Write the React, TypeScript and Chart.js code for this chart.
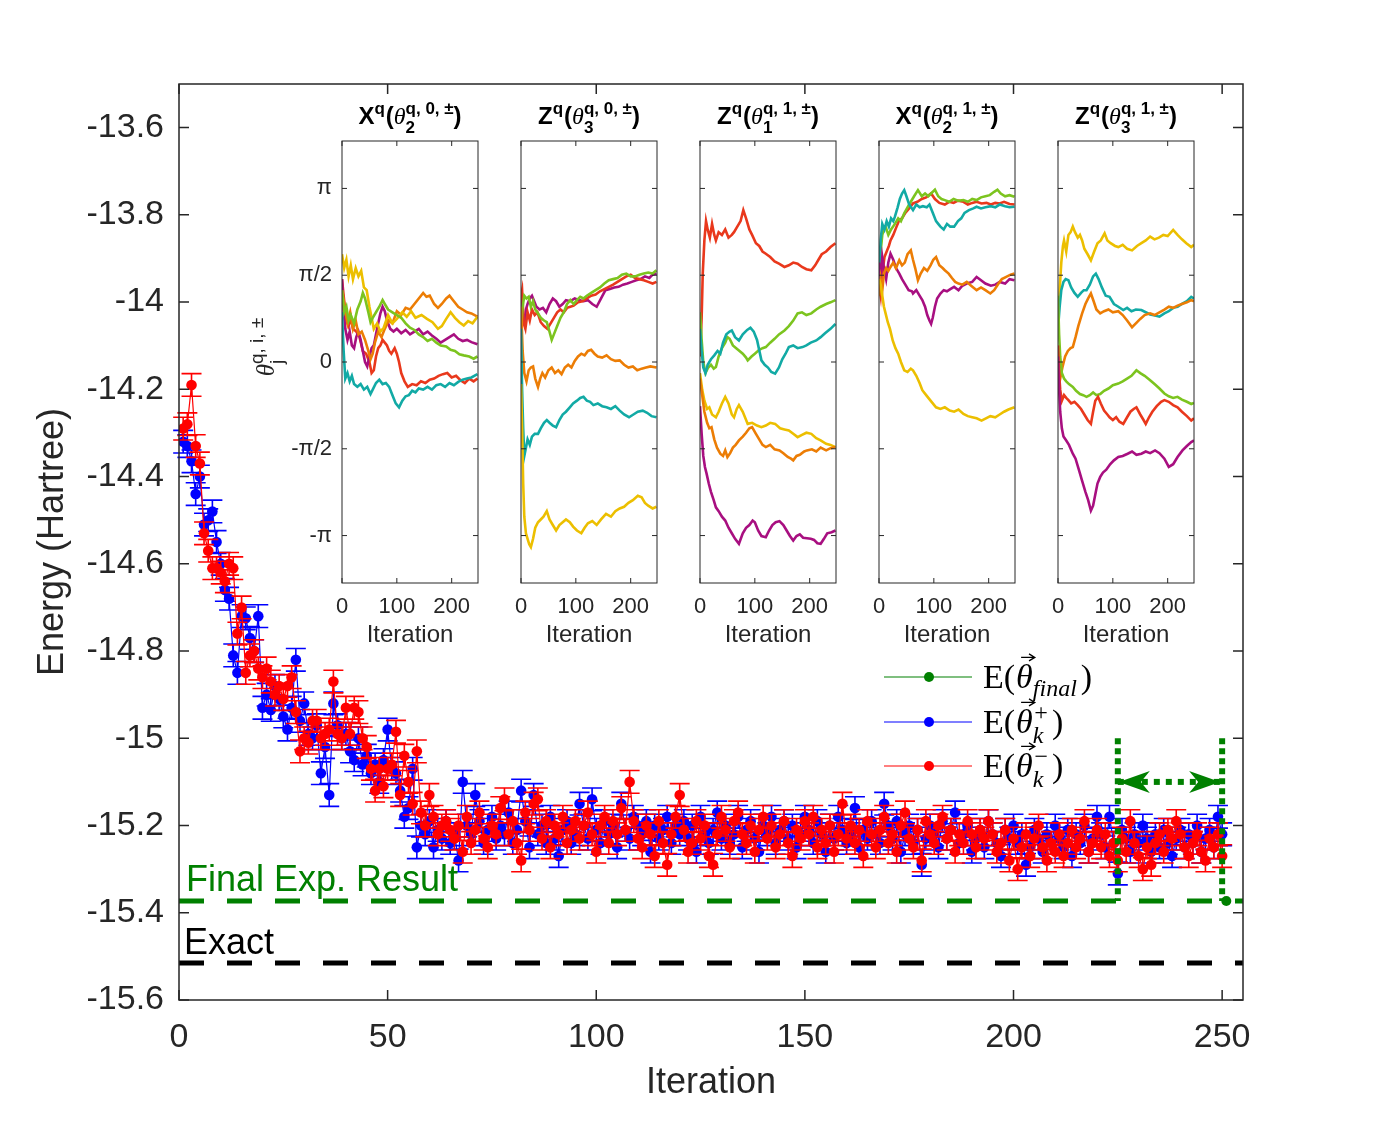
import { useEffect, useRef } from 'react';
import { Chart, registerables } from 'chart.js';

Chart.register(...registerables);

// ---------- main axes ----------
const ITER_MIN = 0;
const ITER_MAX = 255;
const ITER_TICKS = [0, 50, 100, 150, 200, 250];
const E_MIN = -15.6;
const E_MAX = -13.5;
const E_TICKS = [-15.6, -15.4, -15.2, -15.0, -14.8, -14.6, -14.4, -14.2, -14.0, -13.8, -13.6];

// E(theta_k^+) per iteration (k = 1..250)
const ENERGY_PLUS: number[] = [
  -14.32, -14.33, -14.365, -14.44, -14.40, -14.51, -14.50, -14.48, -14.55, -14.60,
  -14.66, -14.68, -14.81, -14.85, -14.72, -14.725, -14.77, -14.80, -14.72, -14.93,
  -14.90, -14.935, -14.88, -14.91, -14.95, -14.98, -14.93, -14.82, -14.96, -14.92,
  -14.99, -15.00, -14.97, -15.08, -15.02, -15.13, -14.92, -14.97, -15.00, -14.99,
  -15.03, -15.05, -15.00, -15.06, -15.04, -15.08, -15.06, -15.10, -15.05, -14.98,
  -15.07, -15.08, -15.12, -15.18, -15.16, -15.07, -15.25, -15.20, -15.22, -15.19,
  -15.25, -15.21, -15.23, -15.19, -15.24, -15.22, -15.28, -15.10, -15.20, -15.22,
  -15.13, -15.19, -15.24, -15.21, -15.18, -15.23, -15.20, -15.22, -15.17, -15.24,
  -15.21, -15.12, -15.19, -15.25, -15.13, -15.22, -15.20, -15.24, -15.18, -15.23,
  -15.27, -15.21, -15.19, -15.24, -15.22, -15.15, -15.20, -15.23, -15.14, -15.21,
  -15.24, -15.19, -15.22, -15.20, -15.25, -15.15, -15.21, -15.23, -15.18, -15.20,
  -15.22, -15.19, -15.26, -15.20, -15.23, -15.21, -15.18, -15.24, -15.20, -15.22,
  -15.19, -15.23, -15.20, -15.26, -15.18, -15.22, -15.24, -15.21, -15.17, -15.23,
  -15.20, -15.24, -15.22, -15.18, -15.25, -15.21, -15.19, -15.23, -15.26, -15.20,
  -15.22, -15.18, -15.24, -15.21, -15.19, -15.23, -15.20, -15.25, -15.22, -15.18,
  -15.21, -15.24, -15.19, -15.22, -15.26, -15.20, -15.23, -15.18, -15.21, -15.24,
  -15.22, -15.16, -15.25, -15.21, -15.23, -15.19, -15.22, -15.24, -15.15, -15.20,
  -15.23, -15.19, -15.26, -15.22, -15.20, -15.24, -15.21, -15.29, -15.23, -15.20,
  -15.22, -15.25, -15.19, -15.23, -15.21, -15.17, -15.24, -15.22, -15.20, -15.26,
  -15.23, -15.21, -15.25, -15.19, -15.22, -15.24, -15.27, -15.21, -15.23, -15.20,
  -15.24, -15.22, -15.29, -15.25, -15.21, -15.23, -15.26, -15.22, -15.24, -15.20,
  -15.23, -15.25, -15.21, -15.27, -15.22, -15.24, -15.20, -15.26, -15.23, -15.18,
  -15.22, -15.25, -15.18, -15.24, -15.31, -15.21, -15.23, -15.26, -15.22, -15.24,
  -15.20, -15.23, -15.26, -15.22, -15.25, -15.21, -15.24, -15.27, -15.23, -15.21,
  -15.25, -15.22, -15.24, -15.20, -15.26, -15.23, -15.21, -15.25, -15.18, -15.22,
];

// E(theta_k^-) per iteration (k = 1..250)
const ENERGY_MINUS: number[] = [
  -14.29, -14.28, -14.19, -14.33, -14.37, -14.53, -14.57, -14.61, -14.61, -14.62,
  -14.64, -14.60, -14.61, -14.76, -14.70, -14.85, -14.81, -14.80, -14.84, -14.86,
  -14.84, -14.87, -14.90, -14.88, -14.91, -14.88, -14.86, -14.94, -15.03, -15.00,
  -15.01, -14.96, -14.96, -15.00, -14.99, -14.98, -14.87, -14.99, -15.00, -14.93,
  -14.99, -14.93, -14.94, -15.00, -15.02, -15.07, -15.12, -15.07, -15.11, -15.07,
  -15.06, -14.985, -15.13, -15.04, -15.10, -15.15, -15.03, -15.17, -15.20, -15.13,
  -15.18, -15.22, -15.20, -15.19, -15.21, -15.23, -15.20, -15.26, -15.18, -15.24,
  -15.21, -15.17, -15.23, -15.25, -15.20, -15.22, -15.16, -15.14, -15.22, -15.19,
  -15.24, -15.28, -15.17, -15.21, -15.15, -15.14, -15.23, -15.19, -15.25, -15.20,
  -15.22, -15.18, -15.24, -15.21, -15.19, -15.23, -15.20, -15.17, -15.22, -15.26,
  -15.20, -15.18, -15.24, -15.19, -15.22, -15.16, -15.21, -15.10, -15.19, -15.23,
  -15.25, -15.20, -15.22, -15.27, -15.19, -15.24, -15.29, -15.22, -15.18, -15.13,
  -15.21, -15.26, -15.24, -15.19, -15.23, -15.20, -15.27, -15.29, -15.22, -15.18,
  -15.21, -15.25, -15.19, -15.17, -15.22, -15.24, -15.20, -15.26, -15.21, -15.18,
  -15.23, -15.20, -15.25, -15.22, -15.19, -15.24, -15.27, -15.21, -15.23, -15.19,
  -15.22, -15.18, -15.25, -15.21, -15.24, -15.20, -15.26, -15.22, -15.15, -15.23,
  -15.20, -15.24, -15.21, -15.27, -15.19, -15.22, -15.25, -15.21, -15.18, -15.24,
  -15.22, -15.26, -15.20, -15.17, -15.23, -15.25, -15.21, -15.28, -15.19, -15.22,
  -15.24, -15.20, -15.18, -15.23, -15.21, -15.26, -15.22, -15.24, -15.19, -15.22,
  -15.25, -15.21, -15.23, -15.19, -15.22, -15.26, -15.24, -15.21, -15.28, -15.23,
  -15.30, -15.25, -15.22, -15.27, -15.23, -15.20, -15.25, -15.28, -15.24, -15.26,
  -15.22, -15.27, -15.24, -15.21, -15.25, -15.23, -15.19, -15.26, -15.24, -15.21,
  -15.25, -15.22, -15.27, -15.24, -15.28, -15.23, -15.26, -15.19, -15.24, -15.27,
  -15.30, -15.25, -15.29, -15.24, -15.22, -15.26, -15.21, -15.23, -15.19, -15.22,
  -15.25, -15.27, -15.24, -15.22, -15.26, -15.28, -15.23, -15.25, -15.22, -15.27,
];

const ERR_PLUS = 0.026;
const ERR_MINUS = 0.026;

const E_FINAL = -15.373;
const FINAL_ITER = 251;
const E_EXACT = -15.515;
const WINDOW_START = 225;
const WINDOW_END = 250;
const WINDOW_TOP = -15.0;
const WINDOW_ARROW = -15.1;

// ---------- inset panels: angle trajectories (iteration, radians) ----------
const PI = Math.PI;
const ANGLE_TICKS = [-PI, -PI / 2, 0, PI / 2, PI];
const ANGLE_LABELS = ['-π', '-π/2', '0', 'π/2', 'π'];
const INSET_ITER_MAX = 248;
const INSET_ITER_TICKS = [0, 100, 200];
const ANGLE_MIN = -4;
const ANGLE_MAX = 4;

const INSET_OPS = ['X', 'Z', 'Z', 'X', 'Z'];
const INSET_SUB = ['2', '3', '1', '2', '3'];
const INSET_LAYER = ['0', '0', '1', '1', '1'];

type Pt = [number, number];

const X2Q0_YELLOW: Pt[] = [[0,1.95],[4,1.7],[8,1.85],[12,1.55],[16,1.75],[20,1.5],[25,1.7],[30,1.55],[35,1.65],[40,1.35],[45,1.3],[50,1.0],[55,0.75],[58,0.6],[64,0.7],[70,0.55],[76,0.62],[84,0.85],[92,0.7],[100,0.78],[110,0.9],[118,0.82],[126,0.92],[134,0.8],[145,0.85],[155,0.78],[165,0.72],[175,0.6],[182,0.65],[190,0.78],[198,0.9],[206,0.8],[214,0.72],[222,0.66],[230,0.74],[238,0.7],[247,0.82]];
const X2Q0_ORANGE: Pt[] = [[0,1.3],[5,1.0],[10,0.7],[15,0.9],[20,0.6],[25,0.75],[30,0.5],[36,0.55],[42,0.4],[48,0.2],[52,0.05],[56,0.15],[60,0.35],[66,0.55],[72,0.45],[78,0.6],[85,0.75],[92,0.7],[100,0.92],[108,0.85],[116,0.98],[124,0.95],[132,1.05],[140,1.15],[148,1.25],[154,1.18],[160,1.2],[168,1.05],[175,0.98],[182,1.05],[190,1.15],[196,1.2],[204,1.1],[212,1.0],[220,0.95],[228,0.9],[236,0.88],[247,0.82]];
const X2Q0_GREEN: Pt[] = [[0,1.3],[4,0.9],[8,1.0],[12,0.75],[16,0.85],[22,0.7],[28,0.95],[34,1.1],[38,1.25],[42,1.15],[48,0.9],[52,0.72],[56,0.8],[62,0.9],[68,1.0],[74,1.12],[78,1.05],[84,0.95],[92,0.9],[100,0.85],[108,0.8],[116,0.7],[124,0.62],[132,0.58],[140,0.5],[148,0.45],[156,0.38],[164,0.42],[172,0.35],[180,0.3],[190,0.28],[198,0.22],[206,0.2],[214,0.14],[222,0.12],[232,0.1],[240,0.06],[247,0.1]];
const X2Q0_MAGENTA: Pt[] = [[0,1.5],[3,0.9],[6,0.6],[10,0.4],[14,0.55],[18,0.3],[22,0.25],[26,0.45],[30,0.55],[34,0.4],[38,0.2],[42,0.0],[46,-0.08],[50,0.1],[54,0.25],[58,0.3],[62,0.5],[66,0.7],[70,0.88],[74,1.0],[78,0.92],[82,0.75],[88,0.6],[94,0.55],[100,0.6],[108,0.52],[116,0.58],[124,0.5],[132,0.55],[140,0.6],[148,0.5],[156,0.55],[164,0.48],[172,0.42],[180,0.35],[188,0.4],[196,0.45],[204,0.5],[212,0.42],[220,0.38],[228,0.4],[236,0.36],[247,0.32]];
const X2Q0_RED: Pt[] = [[0,1.5],[4,1.1],[8,0.75],[12,0.65],[16,0.8],[20,0.6],[26,0.55],[32,0.45],[38,0.2],[44,0.15],[50,0.0],[54,-0.2],[58,-0.15],[62,0.1],[66,0.25],[70,0.3],[74,0.4],[78,0.35],[82,0.3],[86,0.2],[90,0.15],[96,0.25],[100,0.15],[104,0.0],[108,-0.2],[114,-0.35],[120,-0.45],[128,-0.4],[136,-0.42],[144,-0.35],[152,-0.38],[160,-0.32],[168,-0.3],[176,-0.25],[184,-0.22],[192,-0.2],[200,-0.28],[208,-0.25],[216,-0.33],[224,-0.38],[232,-0.3],[240,-0.35],[247,-0.3]];
const X2Q0_TEAL: Pt[] = [[0,0.9],[3,0.2],[6,-0.3],[10,-0.2],[14,-0.35],[18,-0.25],[22,-0.4],[28,-0.45],[34,-0.4],[40,-0.5],[46,-0.45],[52,-0.58],[56,-0.5],[62,-0.38],[68,-0.32],[74,-0.4],[80,-0.38],[86,-0.45],[92,-0.6],[98,-0.75],[104,-0.82],[110,-0.7],[116,-0.62],[122,-0.6],[128,-0.52],[134,-0.55],[140,-0.48],[148,-0.5],[156,-0.45],[164,-0.5],[172,-0.42],[180,-0.4],[188,-0.45],[196,-0.38],[204,-0.42],[212,-0.36],[220,-0.32],[228,-0.3],[236,-0.28],[247,-0.22]];

const Z3Q0_GREEN: Pt[] = [[0,0.6],[3,1.0],[6,1.2],[10,1.15],[14,1.18],[18,1.0],[22,1.1],[26,0.95],[31,0.88],[36,0.8],[42,0.75],[47,0.72],[52,0.55],[56,0.4],[60,0.5],[66,0.65],[72,0.8],[78,0.9],[84,1.05],[90,1.12],[96,1.05],[102,1.12],[108,1.18],[114,1.15],[120,1.2],[128,1.25],[136,1.3],[144,1.35],[152,1.42],[160,1.48],[168,1.5],[176,1.52],[184,1.58],[192,1.6],[200,1.55],[208,1.55],[216,1.58],[224,1.6],[232,1.62],[240,1.6],[247,1.66]];
const Z3Q0_RED: Pt[] = [[0,1.2],[2,1.3],[5,0.7],[8,0.6],[12,0.9],[16,0.75],[20,0.95],[25,0.85],[30,0.9],[36,0.72],[42,0.65],[48,0.6],[54,0.7],[60,0.8],[66,0.9],[72,0.95],[78,0.9],[84,0.98],[90,1.0],[96,1.02],[104,1.08],[112,1.1],[120,1.15],[128,1.2],[136,1.22],[144,1.28],[152,1.32],[160,1.36],[168,1.4],[176,1.45],[184,1.5],[192,1.55],[200,1.58],[208,1.52],[216,1.5],[224,1.48],[232,1.45],[240,1.42],[247,1.45]];
const Z3Q0_MAGENTA: Pt[] = [[0,1.3],[3,0.8],[6,0.7],[9,0.95],[12,1.05],[16,1.15],[20,1.2],[24,1.1],[28,1.0],[34,0.95],[40,0.98],[46,0.9],[52,1.05],[58,1.15],[64,1.1],[70,1.0],[76,1.05],[82,1.12],[90,1.1],[98,1.15],[106,1.12],[114,1.1],[122,1.12],[130,1.05],[138,1.0],[146,1.15],[154,1.3],[162,1.32],[170,1.35],[178,1.36],[186,1.4],[194,1.42],[202,1.45],[210,1.48],[218,1.5],[226,1.55],[234,1.52],[240,1.58],[247,1.6]];
const Z3Q0_ORANGE: Pt[] = [[0,1.0],[3,0.2],[6,-0.2],[10,-0.35],[14,-0.15],[18,-0.1],[22,-0.08],[26,-0.3],[31,-0.45],[35,-0.3],[39,-0.2],[44,-0.28],[50,-0.15],[56,-0.1],[62,-0.2],[68,-0.15],[74,-0.22],[80,-0.1],[86,-0.05],[92,-0.1],[98,0.02],[104,0.1],[110,0.15],[116,0.12],[122,0.2],[128,0.22],[134,0.15],[140,0.1],[148,0.08],[156,0.12],[164,0.05],[172,0.02],[180,0.03],[188,-0.05],[196,-0.1],[204,-0.08],[212,-0.15],[220,-0.12],[228,-0.1],[236,-0.08],[247,-0.1]];
const Z3Q0_TEAL: Pt[] = [[0,0.6],[2,-0.5],[4,-1.2],[6,-1.7],[9,-1.55],[12,-1.4],[16,-1.5],[20,-1.35],[25,-1.3],[31,-1.3],[36,-1.2],[42,-1.1],[47,-1.05],[52,-1.1],[58,-1.15],[64,-1.18],[70,-1.05],[76,-0.95],[82,-0.9],[89,-0.82],[95,-0.75],[102,-0.7],[108,-0.65],[114,-0.63],[120,-0.7],[126,-0.72],[132,-0.78],[140,-0.75],[148,-0.8],[156,-0.82],[164,-0.85],[172,-0.8],[180,-0.88],[188,-0.95],[197,-1.0],[205,-0.95],[213,-0.9],[222,-0.88],[230,-0.92],[238,-0.98],[247,-1.0]];
const Z3Q0_YELLOW: Pt[] = [[0,-0.4],[2,-1.2],[4,-2.2],[6,-2.8],[9,-3.1],[12,-3.2],[15,-3.3],[18,-3.35],[22,-3.2],[26,-3.0],[31,-2.9],[36,-2.85],[41,-2.8],[47,-2.7],[52,-2.85],[58,-2.95],[64,-3.05],[70,-2.95],[76,-2.9],[82,-2.85],[89,-2.9],[95,-2.98],[102,-3.05],[110,-3.1],[116,-3.0],[122,-2.92],[130,-2.88],[138,-2.95],[146,-2.85],[155,-2.75],[164,-2.8],[172,-2.7],[180,-2.65],[188,-2.62],[196,-2.55],[204,-2.5],[213,-2.42],[220,-2.45],[226,-2.55],[232,-2.6],[240,-2.65],[247,-2.62]];

const Z1Q1_RED: Pt[] = [[0,0.1],[3,0.8],[5,1.6],[8,2.2],[11,2.55],[14,2.4],[18,2.25],[22,2.5],[26,2.3],[29,2.2],[34,2.35],[40,2.3],[46,2.4],[52,2.25],[58,2.3],[62,2.35],[68,2.45],[74,2.55],[79,2.75],[84,2.6],[90,2.4],[95,2.3],[102,2.15],[108,2.1],[114,2.0],[120,1.96],[128,1.9],[136,1.82],[144,1.78],[154,1.72],[162,1.75],[170,1.8],[178,1.78],[186,1.72],[194,1.68],[203,1.66],[210,1.75],[216,1.85],[222,1.95],[230,2.0],[238,2.08],[247,2.15]];
const Z1Q1_GREEN: Pt[] = [[0,0.9],[3,0.4],[6,0.0],[10,-0.2],[15,-0.1],[20,-0.05],[25,-0.12],[29,-0.09],[34,0.1],[40,0.25],[46,0.35],[50,0.45],[54,0.42],[60,0.3],[66,0.25],[71,0.21],[78,0.15],[84,0.08],[87,0.03],[94,0.1],[100,0.15],[108,0.22],[114,0.25],[120,0.27],[128,0.35],[136,0.42],[144,0.5],[154,0.57],[162,0.65],[170,0.75],[178,0.88],[186,0.9],[194,0.85],[203,0.88],[212,0.95],[220,1.0],[230,1.05],[238,1.08],[247,1.12]];
const Z1Q1_TEAL: Pt[] = [[0,0.6],[3,0.2],[6,-0.1],[10,-0.2],[14,-0.05],[20,0.05],[26,0.12],[32,0.2],[37,0.15],[42,0.35],[48,0.5],[54,0.55],[58,0.57],[64,0.45],[71,0.39],[78,0.5],[86,0.58],[92,0.62],[98,0.55],[104,0.4],[112,0.03],[118,-0.05],[124,-0.1],[130,-0.18],[137,-0.21],[144,-0.1],[150,0.05],[156,0.15],[162,0.27],[170,0.3],[178,0.25],[187,0.27],[194,0.3],[202,0.35],[212,0.39],[220,0.45],[228,0.52],[238,0.6],[247,0.69]];
const Z1Q1_YELLOW: Pt[] = [[0,-0.2],[4,-0.5],[8,-0.7],[13,-0.85],[17,-0.82],[22,-0.95],[29,-1.0],[34,-0.9],[40,-0.75],[46,-0.63],[52,-0.75],[58,-0.95],[62,-1.0],[67,-0.85],[71,-0.78],[78,-0.9],[87,-1.12],[95,-1.1],[104,-1.15],[112,-1.18],[120,-1.15],[128,-1.1],[137,-1.12],[146,-1.2],[154,-1.22],[162,-1.24],[170,-1.3],[178,-1.36],[186,-1.32],[194,-1.28],[203,-1.3],[212,-1.38],[220,-1.42],[230,-1.48],[238,-1.5],[247,-1.54]];
const Z1Q1_ORANGE: Pt[] = [[0,-0.3],[4,-0.6],[8,-0.9],[13,-1.1],[17,-1.2],[21,-1.18],[26,-1.4],[31,-1.55],[37,-1.66],[42,-1.7],[46,-1.6],[50,-1.72],[55,-1.65],[60,-1.55],[65,-1.5],[71,-1.42],[78,-1.35],[84,-1.28],[90,-1.2],[95,-1.18],[102,-1.3],[108,-1.4],[114,-1.5],[120,-1.54],[128,-1.5],[136,-1.58],[145,-1.6],[152,-1.65],[160,-1.72],[166,-1.75],[170,-1.78],[176,-1.7],[182,-1.68],[190,-1.62],[195,-1.6],[204,-1.58],[212,-1.62],[220,-1.55],[230,-1.6],[238,-1.56],[247,-1.54]];
const Z1Q1_MAGENTA: Pt[] = [[0,-0.8],[3,-1.3],[6,-1.7],[9,-1.9],[12,-2.02],[16,-2.2],[20,-2.35],[25,-2.5],[29,-2.63],[34,-2.7],[40,-2.8],[46,-2.87],[52,-3.0],[58,-3.1],[64,-3.2],[71,-3.29],[78,-3.1],[84,-3.0],[90,-2.95],[96,-2.87],[100,-2.9],[106,-3.05],[112,-3.15],[120,-3.17],[126,-3.05],[132,-2.95],[138,-2.9],[145,-2.88],[152,-2.95],[158,-3.05],[164,-3.15],[170,-3.23],[176,-3.15],[182,-3.12],[188,-3.18],[195,-3.19],[202,-3.2],[208,-3.22],[214,-3.28],[220,-3.29],[226,-3.2],[232,-3.1],[240,-3.08],[247,-3.05]];

const X2Q1_GREEN: Pt[] = [[0,1.6],[3,2.0],[6,2.3],[9,2.4],[12,2.45],[17,2.3],[22,2.4],[29,2.5],[35,2.6],[40,2.55],[46,2.69],[52,2.8],[58,2.9],[64,3.0],[71,3.11],[78,3.0],[84,3.05],[90,3.0],[95,3.05],[102,3.12],[108,3.0],[114,2.95],[120,2.93],[128,2.9],[136,2.95],[144,2.92],[154,2.93],[162,2.9],[170,2.95],[178,2.93],[186,2.98],[194,3.0],[202,3.02],[210,3.08],[216,3.12],[222,3.05],[230,3.0],[238,3.02],[247,2.99]];
const X2Q1_TEAL: Pt[] = [[0,1.6],[3,2.2],[6,2.5],[10,2.4],[14,2.55],[18,2.45],[22,2.6],[26,2.55],[29,2.63],[34,2.8],[38,2.95],[42,3.05],[46,3.11],[50,3.0],[55,2.85],[62,2.75],[68,2.85],[74,2.8],[80,2.82],[87,2.8],[92,2.85],[98,2.7],[104,2.55],[108,2.5],[112,2.45],[118,2.4],[124,2.5],[130,2.45],[137,2.45],[144,2.55],[150,2.6],[156,2.7],[164,2.75],[172,2.78],[178,2.81],[186,2.78],[194,2.8],[204,2.82],[212,2.8],[220,2.85],[230,2.82],[238,2.8],[247,2.81]];
const X2Q1_RED: Pt[] = [[0,1.4],[3,1.2],[6,1.6],[10,1.9],[14,2.0],[18,2.1],[21,2.2],[26,2.3],[32,2.45],[37,2.57],[42,2.6],[48,2.7],[55,2.78],[62,2.87],[70,2.9],[78,2.95],[86,2.98],[95,3.05],[102,2.95],[110,2.88],[120,2.85],[128,2.9],[136,2.88],[144,2.92],[154,2.9],[162,2.85],[170,2.88],[178,2.9],[187,2.87],[196,2.88],[204,2.85],[212,2.88],[220,2.87],[228,2.9],[238,2.86],[247,2.85]];
const X2Q1_ORANGE: Pt[] = [[0,1.2],[3,1.5],[6,1.3],[9,1.6],[13,1.7],[17,1.65],[21,1.72],[26,1.8],[31,1.7],[37,1.84],[42,1.75],[47,1.8],[52,1.95],[58,2.02],[62,1.85],[66,1.7],[71,1.48],[76,1.6],[82,1.7],[88,1.65],[94,1.75],[99,1.85],[104,1.9],[110,1.75],[116,1.7],[120,1.66],[127,1.6],[133,1.52],[139,1.45],[145,1.42],[152,1.4],[160,1.45],[168,1.38],[178,1.3],[186,1.35],[194,1.3],[203,1.24],[210,1.3],[218,1.42],[224,1.5],[232,1.54],[240,1.58],[247,1.6]];
const X2Q1_MAGENTA: Pt[] = [[0,1.8],[3,1.5],[6,1.9],[9,1.7],[13,1.5],[17,1.8],[21,1.96],[26,1.85],[31,1.7],[37,1.6],[42,1.5],[48,1.4],[54,1.3],[60,1.28],[62,1.24],[68,1.3],[74,1.2],[79,1.12],[84,1.0],[88,0.85],[92,0.75],[95,0.69],[98,0.8],[102,1.0],[106,1.15],[112,1.24],[118,1.3],[124,1.28],[130,1.32],[137,1.36],[145,1.3],[152,1.38],[160,1.42],[170,1.45],[178,1.54],[186,1.48],[194,1.42],[204,1.38],[212,1.4],[220,1.45],[230,1.42],[238,1.5],[247,1.48]];
const X2Q1_YELLOW: Pt[] = [[0,1.5],[3,1.4],[6,1.2],[9,1.0],[12,0.88],[16,0.72],[20,0.6],[25,0.39],[30,0.25],[35,0.15],[40,0.0],[46,-0.15],[52,-0.18],[58,-0.12],[62,-0.15],[68,-0.25],[74,-0.38],[79,-0.51],[86,-0.6],[94,-0.7],[104,-0.82],[112,-0.85],[120,-0.82],[129,-0.88],[137,-0.9],[145,-0.86],[154,-0.94],[162,-0.98],[170,-1.0],[178,-1.02],[187,-1.06],[195,-1.02],[203,-0.98],[212,-1.0],[220,-0.95],[228,-0.9],[236,-0.86],[247,-0.82]];

const Z3Q1_YELLOW: Pt[] = [[0,0.6],[3,1.3],[6,1.8],[9,2.1],[11,2.2],[15,2.0],[19,2.3],[23,2.35],[27,2.45],[31,2.35],[36,2.25],[40,2.3],[44,2.2],[48,2.05],[54,1.95],[60,1.84],[66,2.0],[72,2.15],[78,2.2],[85,2.33],[90,2.2],[96,2.15],[104,2.1],[110,2.08],[118,2.12],[126,2.05],[135,2.02],[144,2.1],[152,2.15],[160,2.2],[168,2.27],[176,2.22],[184,2.25],[192,2.3],[200,2.28],[210,2.39],[218,2.3],[226,2.22],[234,2.15],[243,2.08],[248,2.12]];
const Z3Q1_TEAL: Pt[] = [[0,0.6],[3,1.0],[6,1.3],[10,1.45],[14,1.5],[19,1.48],[24,1.35],[30,1.25],[36,1.18],[42,1.25],[47,1.3],[52,1.3],[58,1.4],[64,1.55],[69,1.6],[74,1.5],[80,1.35],[87,1.2],[94,1.18],[102,1.05],[110,1.0],[119,0.94],[126,0.98],[134,0.92],[142,0.95],[152,0.94],[160,0.9],[168,0.86],[177,0.84],[185,0.82],[194,0.88],[202,0.92],[210,0.98],[218,1.0],[226,1.05],[235,1.1],[243,1.18],[248,1.15]];
const Z3Q1_ORANGE: Pt[] = [[0,0.0],[4,-0.3],[8,-0.1],[13,0.1],[18,0.2],[23,0.25],[27,0.27],[32,0.45],[37,0.65],[44,0.88],[50,1.05],[55,1.15],[60,1.24],[65,1.1],[70,0.95],[77,0.88],[84,0.92],[92,0.95],[100,0.9],[110,0.92],[118,0.85],[126,0.75],[135,0.63],[142,0.7],[150,0.78],[158,0.85],[168,0.88],[176,0.85],[185,0.9],[194,0.95],[202,1.0],[210,0.98],[218,1.02],[226,1.05],[235,1.08],[243,1.12],[248,1.1]];
const Z3Q1_GREEN: Pt[] = [[0,1.2],[2,0.5],[4,0.1],[7,-0.2],[11,-0.3],[15,-0.35],[20,-0.4],[27,-0.45],[33,-0.52],[40,-0.58],[46,-0.6],[52,-0.63],[58,-0.6],[64,-0.55],[70,-0.6],[77,-0.58],[84,-0.52],[92,-0.48],[100,-0.42],[110,-0.39],[118,-0.35],[126,-0.3],[134,-0.25],[143,-0.15],[150,-0.2],[158,-0.25],[168,-0.33],[176,-0.4],[185,-0.48],[194,-0.57],[202,-0.62],[210,-0.65],[218,-0.63],[226,-0.68],[235,-0.72],[243,-0.76],[248,-0.74]];
const Z3Q1_RED: Pt[] = [[0,0.3],[2,-0.2],[4,-0.5],[7,-0.7],[11,-0.6],[15,-0.65],[19,-0.69],[24,-0.75],[30,-0.72],[36,-0.78],[42,-0.85],[48,-0.95],[54,-1.05],[60,-1.12],[64,-0.9],[68,-0.7],[73,-0.63],[78,-0.75],[84,-0.88],[90,-0.95],[94,-1.0],[100,-1.05],[106,-1.0],[112,-1.08],[119,-1.12],[126,-1.0],[132,-0.9],[138,-0.85],[143,-0.82],[150,-0.95],[156,-1.05],[160,-1.12],[166,-1.0],[172,-0.9],[180,-0.8],[188,-0.72],[194,-0.69],[202,-0.72],[210,-0.78],[218,-0.82],[226,-0.9],[235,-0.98],[243,-1.06],[248,-1.02]];
const Z3Q1_MAGENTA: Pt[] = [[0,0.1],[2,-0.5],[4,-0.9],[7,-1.2],[10,-1.35],[15,-1.42],[20,-1.5],[27,-1.66],[32,-1.75],[38,-1.95],[44,-2.15],[50,-2.35],[55,-2.5],[60,-2.69],[64,-2.6],[68,-2.4],[72,-2.2],[77,-2.08],[82,-2.0],[88,-1.95],[95,-1.85],[102,-1.78],[110,-1.72],[118,-1.7],[127,-1.66],[135,-1.62],[143,-1.68],[152,-1.66],[160,-1.62],[168,-1.65],[177,-1.6],[185,-1.65],[194,-1.75],[202,-1.9],[210,-1.85],[218,-1.72],[227,-1.6],[235,-1.52],[243,-1.45],[248,-1.42]];

// ---------- styling ----------
const SANS = '"Liberation Sans", Arial, Helvetica, sans-serif';
const SERIF = '"Liberation Serif", "Times New Roman", serif';
const AX = '#262626';
const BLUE = '#0000ff';
const RED = '#ff0000';
const GREEN = '#008000';

const C_YELLOW = '#ecbf00';
const C_GREEN = '#7cc41f';
const C_TEAL = '#12aaa5';
const C_ORANGE = '#ec7d05';
const C_RED = '#e9381c';
const C_MAGENTA = '#a80f80';

const PANEL_LINES: { pts: Pt[]; color: string }[][] = [
  [
    { pts: X2Q0_TEAL, color: C_TEAL },
    { pts: X2Q0_GREEN, color: C_GREEN },
    { pts: X2Q0_YELLOW, color: C_YELLOW },
    { pts: X2Q0_ORANGE, color: C_ORANGE },
    { pts: X2Q0_MAGENTA, color: C_MAGENTA },
    { pts: X2Q0_RED, color: C_RED },
  ],
  [
    { pts: Z3Q0_YELLOW, color: C_YELLOW },
    { pts: Z3Q0_TEAL, color: C_TEAL },
    { pts: Z3Q0_ORANGE, color: C_ORANGE },
    { pts: Z3Q0_GREEN, color: C_GREEN },
    { pts: Z3Q0_RED, color: C_RED },
    { pts: Z3Q0_MAGENTA, color: C_MAGENTA },
  ],
  [
    { pts: Z1Q1_MAGENTA, color: C_MAGENTA },
    { pts: Z1Q1_ORANGE, color: C_ORANGE },
    { pts: Z1Q1_YELLOW, color: C_YELLOW },
    { pts: Z1Q1_TEAL, color: C_TEAL },
    { pts: Z1Q1_GREEN, color: C_GREEN },
    { pts: Z1Q1_RED, color: C_RED },
  ],
  [
    { pts: X2Q1_YELLOW, color: C_YELLOW },
    { pts: X2Q1_ORANGE, color: C_ORANGE },
    { pts: X2Q1_MAGENTA, color: C_MAGENTA },
    { pts: X2Q1_TEAL, color: C_TEAL },
    { pts: X2Q1_GREEN, color: C_GREEN },
    { pts: X2Q1_RED, color: C_RED },
  ],
  [
    { pts: Z3Q1_MAGENTA, color: C_MAGENTA },
    { pts: Z3Q1_RED, color: C_RED },
    { pts: Z3Q1_GREEN, color: C_GREEN },
    { pts: Z3Q1_ORANGE, color: C_ORANGE },
    { pts: Z3Q1_TEAL, color: C_TEAL },
    { pts: Z3Q1_YELLOW, color: C_YELLOW },
  ],
];

// ---------- page layout ----------
const W = 1375;
const H = 1125;
const MAIN_PAD = { left: 0, top: 84, right: 132, bottom: 0 };
const MAIN_Y_AXIS_W = 179;
const MAIN_X_AXIS_H = 125;

const INSET_LEFTS = [342, 521, 700, 879, 1058];
const INSET_PLOT_W = 136;
const INSET_CANVAS_TOP = 85;
const INSET_CANVAS_W = 270;
const INSET_CANVAS_H = 590;
const INSET_LEFT_GUTTER = 100;
const INSET_PAD_TOP = 56;
const INSET_X_AXIS_H = 92;

// ---------- rich text (sub/superscripts) ----------
type Piece = {
  t: string;
  font: string;
  size: number;
  sub?: string;
  sup?: string;
  sFont?: string;
  subDy?: number;
  supDy?: number;
  vec?: boolean;
  gap?: number;
};

function pieceWidth(ctx: CanvasRenderingContext2D, p: Piece) {
  ctx.font = p.font;
  let w = ctx.measureText(p.t).width;
  if (p.sub || p.sup) {
    ctx.font = p.sFont || p.font;
    w += Math.max(p.sub ? ctx.measureText(p.sub).width : 0, p.sup ? ctx.measureText(p.sup).width : 0);
  }
  return w + (p.gap || 0);
}

function drawRich(ctx: CanvasRenderingContext2D, pieces: Piece[], x: number, y: number, align: 'left' | 'center') {
  const total = pieces.reduce((s, p) => s + pieceWidth(ctx, p), 0);
  let cx = align === 'center' ? x - total / 2 : x;
  ctx.textAlign = 'left';
  ctx.textBaseline = 'alphabetic';
  for (const p of pieces) {
    ctx.font = p.font;
    ctx.fillText(p.t, cx, y);
    const tw = ctx.measureText(p.t).width;
    if (p.vec) {
      const ay = y - p.size * 0.9;
      const x0 = cx + tw * 0.3;
      const x1 = cx + tw + 2;
      const ah = p.size * 0.17;
      ctx.save();
      ctx.strokeStyle = ctx.fillStyle as string;
      ctx.lineWidth = Math.max(1, p.size / 26);
      ctx.beginPath();
      ctx.moveTo(x0, ay);
      ctx.lineTo(x1, ay);
      ctx.moveTo(x1 - ah, ay - ah * 0.6);
      ctx.lineTo(x1, ay);
      ctx.lineTo(x1 - ah, ay + ah * 0.6);
      ctx.stroke();
      ctx.restore();
    }
    cx += tw;
    if (p.sub || p.sup) {
      ctx.font = p.sFont || p.font;
      let sw = 0;
      if (p.sup) {
        ctx.fillText(p.sup, cx, y + (p.supDy || 0));
        sw = ctx.measureText(p.sup).width;
      }
      if (p.sub) {
        ctx.fillText(p.sub, cx, y + (p.subDy || 0));
        sw = Math.max(sw, ctx.measureText(p.sub).width);
      }
      cx += sw;
    }
    cx += p.gap || 0;
  }
}

function insetTitle(op: string, j: string, layer: string): Piece[] {
  const b = (s: number) => `bold ${s}px ${SANS}`;
  return [
    { t: op, font: b(24), size: 24, sup: 'q', sFont: b(17), supDy: -10, gap: 1 },
    { t: '(', font: b(24), size: 24 },
    { t: 'θ', font: `italic 24px ${SERIF}`, size: 24, sup: `q, ${layer}, ±`, sub: j, sFont: b(17), supDy: -10, subDy: 9 },
    { t: ')', font: b(24), size: 24 },
  ];
}

function legendText(sup: string | null): Piece[] {
  const theta: Piece = sup
    ? { t: 'θ', font: `italic 34px ${SERIF}`, size: 34, vec: true, sup, sub: 'k', sFont: `italic 24px ${SERIF}`, supDy: -13, subDy: 10, gap: 3 }
    : { t: 'θ', font: `italic 34px ${SERIF}`, size: 34, vec: true, sub: 'final', sFont: `italic 24px ${SERIF}`, subDy: 8, gap: 4 };
  return [{ t: 'E(', font: `34px ${SERIF}`, size: 34, gap: 1 }, theta, { t: ')', font: `34px ${SERIF}`, size: 34 }];
}

// ---------- plugins ----------
const errorBarsPlugin = {
  id: 'errorBars',
  beforeDatasetDraw(chart: any, args: any) {
    const ds = chart.data.datasets[args.index];
    if (!ds.errorBar) return;
    const { ctx } = chart;
    const y = chart.scales.y;
    const cap = 10;
    ctx.save();
    ctx.strokeStyle = ds.borderColor;
    ctx.lineWidth = 1.6;
    ctx.beginPath();
    args.meta.data.forEach((el: any, i: number) => {
      const v = ds.data[i].y;
      const yt = y.getPixelForValue(v + ds.errorBar);
      const yb = y.getPixelForValue(v - ds.errorBar);
      ctx.moveTo(el.x, yt);
      ctx.lineTo(el.x, yb);
      ctx.moveTo(el.x - cap, yt);
      ctx.lineTo(el.x + cap, yt);
      ctx.moveTo(el.x - cap, yb);
      ctx.lineTo(el.x + cap, yb);
    });
    ctx.stroke();
    ctx.restore();
  },
};

function arrowHead(ctx: CanvasRenderingContext2D, tipX: number, tipY: number, dir: number) {
  const len = 31;
  const half = 11;
  const notch = 22;
  ctx.beginPath();
  ctx.moveTo(tipX, tipY);
  ctx.lineTo(tipX - dir * len, tipY - half);
  ctx.lineTo(tipX - dir * notch, tipY);
  ctx.lineTo(tipX - dir * len, tipY + half);
  ctx.closePath();
  ctx.fill();
}

const mainDecorPlugin = {
  id: 'mainDecor',
  afterDatasetsDraw(chart: any) {
    const { ctx, scales } = chart;
    const x = scales.x;
    const y = scales.y;
    ctx.save();
    // window arrows
    ctx.fillStyle = GREEN;
    const ay = y.getPixelForValue(WINDOW_ARROW);
    arrowHead(ctx, x.getPixelForValue(WINDOW_START) + 1, ay, -1);
    arrowHead(ctx, x.getPixelForValue(WINDOW_END) - 2, ay, 1);
    // reference line labels
    ctx.font = `36px ${SANS}`;
    ctx.textAlign = 'left';
    ctx.textBaseline = 'alphabetic';
    ctx.fillStyle = GREEN;
    ctx.fillText('Final Exp. Result', x.getPixelForValue(0) + 7, y.getPixelForValue(E_FINAL) - 10);
    ctx.fillStyle = '#000';
    ctx.fillText('Exact', x.getPixelForValue(0) + 5, y.getPixelForValue(E_EXACT) - 9);
    // legend
    const rows = [
      { color: GREEN, text: legendText(null), cy: 677 },
      { color: BLUE, text: legendText('+'), cy: 722 },
      { color: RED, text: legendText('−'), cy: 766 },
    ];
    rows.forEach((r) => {
      ctx.strokeStyle = r.color;
      ctx.fillStyle = r.color;
      ctx.lineWidth = 1.2;
      ctx.beginPath();
      ctx.moveTo(884, r.cy);
      ctx.lineTo(972, r.cy);
      ctx.stroke();
      ctx.beginPath();
      ctx.arc(929, r.cy, 5, 0, Math.PI * 2);
      ctx.fill();
      ctx.fillStyle = '#000';
      drawRich(ctx, r.text, 983, r.cy + 11, 'left');
    });
    ctx.restore();
  },
  afterDraw(chart: any) {
    const { ctx, chartArea, scales } = chart;
    const { left, right, top, bottom } = chartArea;
    const tl = 10;
    ctx.save();
    ctx.strokeStyle = AX;
    ctx.lineWidth = 1.5;
    ctx.strokeRect(left, top, right - left, bottom - top);
    ctx.beginPath();
    scales.x.ticks.forEach((t: any) => {
      const px = scales.x.getPixelForValue(t.value);
      ctx.moveTo(px, bottom);
      ctx.lineTo(px, bottom - tl);
      ctx.moveTo(px, top);
      ctx.lineTo(px, top + tl);
    });
    scales.y.ticks.forEach((t: any) => {
      const py = scales.y.getPixelForValue(t.value);
      ctx.moveTo(left, py);
      ctx.lineTo(left + tl, py);
      ctx.moveTo(right, py);
      ctx.lineTo(right - tl, py);
    });
    ctx.stroke();
    ctx.restore();
  },
};

function insetDecor(idx: number) {
  return {
    id: 'insetDecor' + idx,
    beforeDatasetsDraw(chart: any) {
      const { ctx, chartArea } = chart;
      ctx.save();
      ctx.fillStyle = '#fff';
      ctx.fillRect(chartArea.left, chartArea.top, chartArea.right - chartArea.left, chartArea.bottom - chartArea.top);
      ctx.restore();
    },
    afterDraw(chart: any) {
      const { ctx, chartArea, scales } = chart;
      const { left, right, top, bottom } = chartArea;
      const tl = 5;
      ctx.save();
      ctx.strokeStyle = AX;
      ctx.lineWidth = 1;
      ctx.strokeRect(left, top, right - left, bottom - top);
      ctx.beginPath();
      INSET_ITER_TICKS.forEach((v) => {
        const px = scales.x.getPixelForValue(v);
        ctx.moveTo(px, bottom);
        ctx.lineTo(px, bottom - tl);
        ctx.moveTo(px, top);
        ctx.lineTo(px, top + tl);
      });
      ANGLE_TICKS.forEach((v) => {
        const py = scales.y.getPixelForValue(v);
        ctx.moveTo(left, py);
        ctx.lineTo(left + tl, py);
        ctx.moveTo(right, py);
        ctx.lineTo(right - tl, py);
      });
      ctx.stroke();
      ctx.fillStyle = '#000';
      drawRich(ctx, insetTitle(INSET_OPS[idx], INSET_SUB[idx], INSET_LAYER[idx]), (left + right) / 2, 124 - INSET_CANVAS_TOP, 'center');
      if (idx === 0) {
        ctx.translate(265 - (INSET_LEFTS[0] - INSET_LEFT_GUTTER), 347 - INSET_CANVAS_TOP);
        ctx.rotate(-Math.PI / 2);
        ctx.fillStyle = AX;
        drawRich(
          ctx,
          [{ t: 'θ', font: `italic 25px ${SERIF}`, size: 25, sup: 'q, i, ±', sub: 'j', sFont: `19px ${SANS}`, supDy: -11, subDy: 9 }],
          0,
          9,
          'center'
        );
      }
      ctx.restore();
    },
  };
}

// ---------- chart configs ----------
const toSeries = (values: number[]) => values.map((y, i) => ({ x: i + 1, y }));

function mainConfig(): any {
  const refLine = (yv: number, color: string) => ({
    data: [{ x: ITER_MIN, y: yv }, { x: ITER_MAX, y: yv }],
    borderColor: color,
    borderWidth: 5,
    borderDash: [25, 23],
    pointRadius: 0,
    order: 5,
  });
  const windowLine = (xv: number) => ({
    data: [{ x: xv, y: WINDOW_TOP }, { x: xv, y: E_FINAL }],
    borderColor: GREEN,
    borderWidth: 6,
    borderDash: [6, 4],
    pointRadius: 0,
    order: 0,
  });
  const series = (values: number[], color: string, err: number, order: number) => ({
    data: toSeries(values),
    borderColor: color,
    backgroundColor: color,
    borderWidth: 1.2,
    pointRadius: 5.3,
    pointBorderWidth: 0,
    pointBackgroundColor: color,
    errorBar: err,
    order,
  });
  return {
    type: 'line',
    data: {
      datasets: [
        windowLine(WINDOW_START),
        windowLine(WINDOW_END),
        {
          data: [{ x: WINDOW_START, y: WINDOW_ARROW }, { x: WINDOW_END, y: WINDOW_ARROW }],
          borderColor: GREEN,
          borderWidth: 6,
          borderDash: [6, 6],
          pointRadius: 0,
          order: 0,
        },
        {
          data: [{ x: FINAL_ITER, y: E_FINAL }],
          showLine: false,
          pointRadius: 5,
          pointBorderWidth: 0,
          pointBackgroundColor: GREEN,
          borderColor: GREEN,
          order: 0,
        },
        series(ENERGY_MINUS, RED, ERR_MINUS, 1),
        series(ENERGY_PLUS, BLUE, ERR_PLUS, 2),
        refLine(E_FINAL, GREEN),
        refLine(E_EXACT, '#000'),
      ],
    },
    options: {
      animation: false,
      responsive: false,
      devicePixelRatio: 1,
      layout: { padding: MAIN_PAD },
      plugins: { legend: { display: false }, tooltip: { enabled: false } },
      scales: {
        x: {
          type: 'linear',
          min: ITER_MIN,
          max: ITER_MAX,
          bounds: 'data',
          afterBuildTicks: (s: any) => {
            s.ticks = ITER_TICKS.map((v) => ({ value: v }));
          },
          ticks: { font: { family: SANS, size: 34 }, color: AX, padding: 17, maxRotation: 0, autoSkip: false },
          grid: { display: false, drawTicks: false },
          border: { display: false },
          title: { display: true, text: 'Iteration', font: { family: SANS, size: 36 }, color: AX, padding: { top: 0, bottom: 20 } },
          afterFit: (s: any) => {
            s.height = MAIN_X_AXIS_H;
          },
        },
        y: {
          type: 'linear',
          min: E_MIN,
          max: E_MAX,
          bounds: 'data',
          afterBuildTicks: (s: any) => {
            s.ticks = E_TICKS.map((v) => ({ value: v }));
          },
          ticks: {
            font: { family: SANS, size: 34 },
            color: AX,
            padding: 15,
            autoSkip: false,
            callback: (v: number) => String(parseFloat(Number(v).toFixed(1))),
          },
          grid: { display: false, drawTicks: false },
          border: { display: false },
          title: { display: true, text: 'Energy (Hartree)', font: { family: SANS, size: 36 }, color: AX, padding: { top: 31, bottom: 0 } },
          afterFit: (s: any) => {
            s.width = MAIN_Y_AXIS_W;
          },
        },
      },
    },
    plugins: [errorBarsPlugin, mainDecorPlugin],
  };
}

function insetConfig(idx: number): any {
  const showY = idx === 0;
  return {
    type: 'line',
    data: {
      datasets: PANEL_LINES[idx].map((l) => ({
        data: l.pts.map(([x, y]) => ({ x, y })),
        borderColor: l.color,
        borderWidth: 2.6,
        pointRadius: 0,
        tension: 0,
      })),
    },
    options: {
      animation: false,
      responsive: false,
      devicePixelRatio: 1,
      layout: {
        padding: {
          left: showY ? 0 : INSET_LEFT_GUTTER,
          right: INSET_CANVAS_W - INSET_LEFT_GUTTER - INSET_PLOT_W,
          top: INSET_PAD_TOP,
          bottom: 0,
        },
      },
      plugins: { legend: { display: false }, tooltip: { enabled: false } },
      scales: {
        x: {
          type: 'linear',
          min: 0,
          max: INSET_ITER_MAX,
          bounds: 'data',
          afterBuildTicks: (s: any) => {
            s.ticks = INSET_ITER_TICKS.map((v) => ({ value: v }));
          },
          ticks: { font: { family: SANS, size: 22 }, color: AX, padding: 11, maxRotation: 0, autoSkip: false },
          grid: { display: false, drawTicks: false },
          border: { display: false },
          title: { display: true, text: 'Iteration', font: { family: SANS, size: 24 }, color: AX, padding: { top: 0, bottom: 25 } },
          afterFit: (s: any) => {
            s.height = INSET_X_AXIS_H;
          },
        },
        y: {
          type: 'linear',
          min: ANGLE_MIN,
          max: ANGLE_MAX,
          bounds: 'data',
          display: showY,
          afterBuildTicks: (s: any) => {
            s.ticks = ANGLE_TICKS.map((v) => ({ value: v }));
          },
          ticks: {
            font: { family: SANS, size: 22 },
            color: AX,
            padding: 10,
            autoSkip: false,
            callback: (_v: number, i: number) => ANGLE_LABELS[i],
          },
          grid: { display: false, drawTicks: false },
          border: { display: false },
          afterFit: showY
            ? (s: any) => {
                s.width = INSET_LEFT_GUTTER;
              }
            : undefined,
        },
      },
    },
    plugins: [insetDecor(idx)],
  };
}

export default function App() {
  const mainRef = useRef<HTMLCanvasElement | null>(null);
  const insetRefs = useRef<(HTMLCanvasElement | null)[]>([]);

  useEffect(() => {
    document.body.style.margin = '0';
    const charts: Chart[] = [];
    if (mainRef.current) charts.push(new Chart(mainRef.current, mainConfig()));
    INSET_LEFTS.forEach((_, i) => {
      const c = insetRefs.current[i];
      if (c) charts.push(new Chart(c, insetConfig(i)));
    });
    return () => charts.forEach((c) => c.destroy());
  }, []);

  return (
    <div style={{ position: 'relative', width: W, height: H, background: '#fff', overflow: 'hidden' }}>
      <canvas ref={mainRef} width={W} height={H} style={{ position: 'absolute', left: 0, top: 0, width: W, height: H }} />
      {INSET_LEFTS.map((l, i) => (
        <canvas
          key={i}
          ref={(el) => {
            insetRefs.current[i] = el;
          }}
          width={INSET_CANVAS_W}
          height={INSET_CANVAS_H}
          style={{
            position: 'absolute',
            left: l - INSET_LEFT_GUTTER,
            top: INSET_CANVAS_TOP,
            width: INSET_CANVAS_W,
            height: INSET_CANVAS_H,
          }}
        />
      ))}
    </div>
  );
}
